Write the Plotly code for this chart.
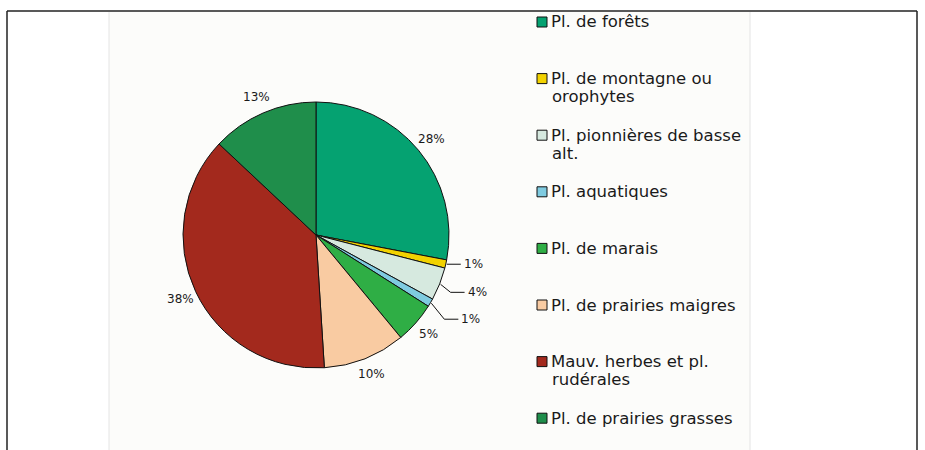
import math
import plotly.graph_objects as go

# Plant groups and their share of the flora (%)
categories = [
    "Pl. de forêts",
    "Pl. de montagne ou<br>orophytes",
    "Pl. pionnières de basse<br>alt.",
    "Pl. aquatiques",
    "Pl. de marais",
    "Pl. de prairies maigres",
    "Mauv. herbes et pl.<br>rudérales",
    "Pl. de prairies grasses",
]
shares = [28, 1, 4, 1, 5, 10, 38, 13]
colors = ["#05A271", "#F2D200", "#D6E9DF", "#7FCBE0",
          "#2FAE45", "#F9CBA2", "#A3291D", "#1F8E4B"]

W, H = 925, 450
CX, CY, R = 316, 235, 133          # pie centre and radius in pixels


def px(x):
    return x / W


def py(y):
    return 1 - y / H


fig = go.Figure(go.Pie(
    values=shares,
    labels=[c.replace("<br>", " ") for c in categories],
    sort=False,
    direction="clockwise",
    marker=dict(colors=colors, line=dict(color="#111111", width=1)),
    textinfo="none",
    hoverinfo="label+percent",
    showlegend=False,
    domain=dict(x=[px(CX - R), px(CX + R)], y=[py(CY + R), py(CY - R)]),
))

shapes = []
annotations = []

# frame and panel
shapes.append(dict(type="rect", xref="paper", yref="paper",
                   x0=px(109), x1=px(750), y0=0, y1=py(12),
                   fillcolor="#FCFCFA", line=dict(width=0), layer="below"))
for x in (109, 750):
    shapes.append(dict(type="line", xref="paper", yref="paper",
                       x0=px(x), x1=px(x), y0=0, y1=py(12),
                       line=dict(color="#E4E4E4", width=1)))
shapes.append(dict(type="line", xref="paper", yref="paper",
                   x0=px(7), x1=px(917), y0=py(11), y1=py(11),
                   line=dict(color="#222222", width=1.5)))
for x in (7, 917):
    shapes.append(dict(type="line", xref="paper", yref="paper",
                       x0=px(x), x1=px(x), y0=0, y1=py(11),
                       line=dict(color="#222222", width=1.5)))

# percentage labels; thin slices get a leader line
leaders = {1: (0, 0), 2: (10, 8), 3: (13, 16)}
label_font = dict(family="DejaVu Sans, Arial", size=12, color="#1A1A1A")
total = sum(shares)
cum = 0
for i, v in enumerate(shares):
    ang = (cum + v / 2) / total * 2 * math.pi
    cum += v
    dx, dy = math.sin(ang), -math.cos(ang)
    text = f"{round(100 * v / total)}%"
    if i in leaders:
        ex, ey = CX + (R + 1) * dx, CY + (R + 1) * dy
        ox, oy = leaders[i]
        bx, by = ex + ox, ey + oy
        hx = bx + 14
        shapes.append(dict(type="path", xref="paper", yref="paper",
                           path=f"M {px(ex)},{py(ey)} L {px(bx)},{py(by)} L {px(hx)},{py(by)}",
                           line=dict(color="#111111", width=1)))
        annotations.append(dict(x=px(hx + 1), y=py(by), xref="paper", yref="paper",
                                text=text, showarrow=False, xanchor="left",
                                yanchor="middle", font=label_font))
    else:
        lx, ly = CX + 150 * dx, CY + 150 * dy
        annotations.append(dict(x=px(lx), y=py(ly), xref="paper", yref="paper",
                                text=text, showarrow=False, xanchor="center",
                                yanchor="middle", font=label_font))

# legend drawn as swatches and text
legend_font = dict(family="DejaVu Sans, Arial", size=16.5, color="#1A1A1A")
for i, (name, col) in enumerate(zip(categories, colors)):
    y0 = 22 + 56.6 * i
    shapes.append(dict(type="rect", xref="paper", yref="paper",
                       x0=px(537), x1=px(547), y0=py(y0 + 5), y1=py(y0 - 5),
                       fillcolor=col, line=dict(color="#111111", width=1)))
    for j, line in enumerate(name.split("<br>")):
        annotations.append(dict(x=px(549 if j == 0 else 550), y=py(y0 + 18 * j),
                                xref="paper", yref="paper", text=line,
                                showarrow=False, xanchor="left", yanchor="middle",
                                font=legend_font))

fig.update_layout(
    width=W, height=H,
    margin=dict(l=0, r=0, t=0, b=0),
    paper_bgcolor="white",
    plot_bgcolor="white",
    shapes=shapes,
    annotations=annotations,
)

fig.write_html("out.html")
